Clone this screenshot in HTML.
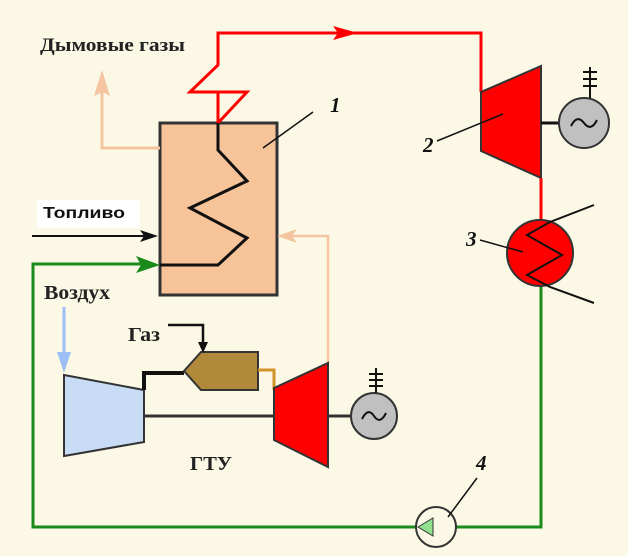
<!DOCTYPE html>
<html><head><meta charset="utf-8"><style>
html,body{margin:0;padding:0;background:#fbf8e6;}
svg{display:block}
.s{font-family:"Liberation Serif",serif;font-weight:bold;fill:#222}
.i{font-family:"Liberation Serif",serif;font-style:italic;font-weight:bold;fill:#111;font-size:21px}
</style></head><body>
<svg width="628" height="556" viewBox="0 0 628 556" xmlns="http://www.w3.org/2000/svg">
<rect width="628" height="556" fill="#fbf8e6"/>
<rect x="160" y="123" width="117" height="172" fill="#f7c49a" stroke="#333" stroke-width="3"/>
<polyline points="218,123 218,92 190,92 218,65 218,33 481,33 481,92" fill="none" stroke="#f00" stroke-width="3"/>
<polyline points="190,92 247,92 218,123" fill="none" stroke="#f00" stroke-width="3"/>
<polygon points="333,26 358,33 333,40 338,33" fill="#f00"/>
<polyline points="218,123 218,150 247,181 190,208 247,238 218,265 160,265" fill="none" stroke="#111" stroke-width="3"/>
<polyline points="160,148 102,148 102,90" fill="none" stroke="#f5c4a0" stroke-width="3"/>
<polygon points="94,96 102,70 110,96 102,92" fill="#f5c4a0"/>
<text x="40" y="51" class="s" font-size="19" textLength="145" lengthAdjust="spacingAndGlyphs">Дымовые газы</text>
<rect x="37" y="200" width="103" height="28" fill="#fff"/>
<text x="43" y="218" font-family="Liberation Sans,sans-serif" font-weight="bold" font-size="16" fill="#111" textLength="82" lengthAdjust="spacingAndGlyphs">Топливо</text>
<line x1="32" y1="236" x2="150" y2="236" stroke="#111" stroke-width="2"/>
<polygon points="140,230 158,236 140,242 144,236" fill="#111"/>
<polyline points="150,264 33,264 33,527 541,527 541,285" fill="none" stroke="#1a8a1a" stroke-width="3"/>
<polygon points="136,256 160,265 136,273 141,265" fill="#1a8a1a"/>
<line x1="263" y1="148" x2="313" y2="112" stroke="#111" stroke-width="1.5"/>
<text x="330" y="112" class="i">1</text>
<polygon points="481,92 541,66 541,178 481,151" fill="#f00" stroke="#333" stroke-width="2"/>
<line x1="541" y1="178" x2="541" y2="222" stroke="#f00" stroke-width="3"/>
<line x1="541" y1="123" x2="560" y2="123" stroke="#111" stroke-width="3"/>
<circle cx="584" cy="123" r="25" fill="#c0c0c0" stroke="#333" stroke-width="2"/>
<path d="M571,126 q6,-12 13,-3 q7,9 13,-3" fill="none" stroke="#111" stroke-width="2"/>
<line x1="590" y1="98" x2="590" y2="67" stroke="#111" stroke-width="2"/>
<line x1="583" y1="72" x2="597" y2="72" stroke="#111" stroke-width="2"/><line x1="583" y1="79" x2="597" y2="79" stroke="#111" stroke-width="2"/><line x1="583" y1="86" x2="597" y2="86" stroke="#111" stroke-width="2"/>
<line x1="437" y1="141" x2="503" y2="114" stroke="#111" stroke-width="1.5"/>
<text x="423" y="152" class="i">2</text>
<circle cx="540" cy="253" r="33" fill="#f00" stroke="#333" stroke-width="2"/>
<polyline points="594,205 550,222 527,235 562,255 527,275 550,287 594,303" fill="none" stroke="#111" stroke-width="2"/>
<line x1="480" y1="240" x2="523" y2="252" stroke="#111" stroke-width="1.5"/>
<text x="466" y="246" class="i">3</text>
<text x="44" y="299" class="s" font-size="20" textLength="66" lengthAdjust="spacingAndGlyphs">Воздух</text>
<line x1="64" y1="307" x2="64" y2="360" stroke="#9cc0f5" stroke-width="3"/>
<polygon points="57,352 64,373 71,352" fill="#9cc0f5"/>
<polygon points="64,375 144,390 144,442 64,456" fill="#c8dcf5" stroke="#333" stroke-width="2"/>
<line x1="144" y1="416" x2="274" y2="416" stroke="#333" stroke-width="3"/>
<polyline points="144,390 144,373 184,373" fill="none" stroke="#111" stroke-width="4"/>
<polygon points="184,371 201,352 258,352 258,390 201,390" fill="#b08a3a" stroke="#333" stroke-width="2"/>
<text x="128" y="341" class="s" font-size="20" textLength="32" lengthAdjust="spacingAndGlyphs">Газ</text>
<polyline points="168,325 203,325 203,345" fill="none" stroke="#111" stroke-width="2.5"/>
<polygon points="198,342 203,353 208,342" fill="#111"/>
<polyline points="258,370 274,370 274,390" fill="none" stroke="#d4922a" stroke-width="3"/>
<polyline points="328,363 328,236 285,236" fill="none" stroke="#f5c4a0" stroke-width="2.5"/>
<polygon points="297,229 277,236 297,243 292,236" fill="#f5c4a0"/>
<polygon points="274,388 328,363 328,467 274,440" fill="#f00" stroke="#333" stroke-width="2"/>
<line x1="328" y1="416" x2="352" y2="416" stroke="#333" stroke-width="3"/>
<circle cx="374" cy="416" r="23" fill="#c0c0c0" stroke="#333" stroke-width="2"/>
<path d="M362,419 q6,-12 12,-3 q6,9 12,-3" fill="none" stroke="#111" stroke-width="2"/>
<line x1="376" y1="393" x2="376" y2="368" stroke="#111" stroke-width="2"/>
<line x1="369" y1="374" x2="383" y2="374" stroke="#111" stroke-width="2"/><line x1="369" y1="380" x2="383" y2="380" stroke="#111" stroke-width="2"/><line x1="369" y1="386" x2="383" y2="386" stroke="#111" stroke-width="2"/>
<text x="190" y="470" class="s" font-size="20" textLength="42" lengthAdjust="spacingAndGlyphs">ГТУ</text>
<circle cx="436" cy="527" r="20" fill="#fbf8e6" stroke="#333" stroke-width="2"/>
<polygon points="418,527 433,518 433,536" fill="#90e090" stroke="#333" stroke-width="1"/>
<line x1="448" y1="517" x2="477" y2="478" stroke="#111" stroke-width="1.5"/>
<text x="476" y="470" class="i">4</text>
</svg>
</body></html>
